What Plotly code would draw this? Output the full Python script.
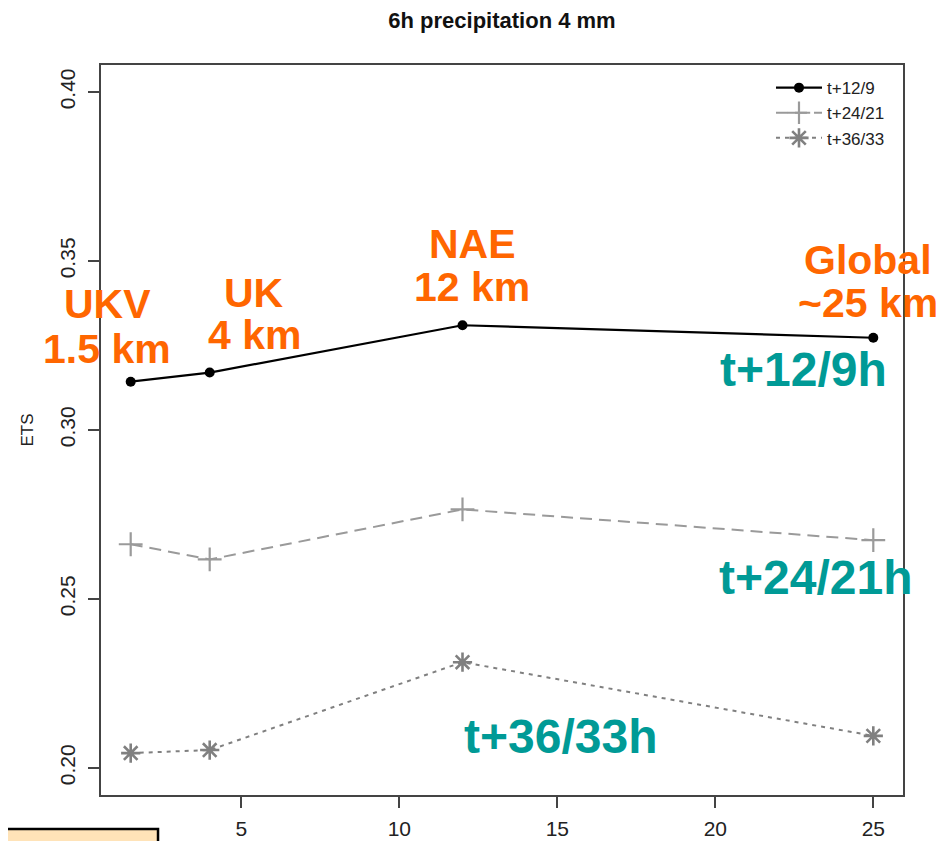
import plotly.graph_objects as go

# ---- data ----
resolution_km = [1.5, 4, 12, 25]
ets_t12 = [0.3143, 0.3170, 0.3310, 0.3273]
ets_t24 = [0.2662, 0.2617, 0.2765, 0.2674]
ets_t36 = [0.2044, 0.2053, 0.2313, 0.2095]
series_names = ["t+12/9", "t+24/21", "t+36/33"]

x_ticks = [5, 10, 15, 20, 25]
y_ticks = [0.20, 0.25, 0.30, 0.35, 0.40]
y_ticklabels = ["0.20", "0.25", "0.30", "0.35", "0.40"]

model_labels = [("UKV", "1.5 km"), ("UK", "4 km"), ("NAE", "12 km"), ("Global", "~25 km")]
model_label_x = [0.76, 5.41, 12.31, 24.84]
model_label_y1 = [0.3374, 0.3406, 0.3551, 0.3504]
model_label_y2 = [0.3241, 0.3282, 0.3424, 0.3377]

lead_labels = ["t+12/9h", "t+24/21h", "t+36/33h"]
lead_label_x = [22.78, 23.16, 15.09]
lead_label_y = [0.3179, 0.2564, 0.2092]

NARROW = "Liberation Sans Narrow, Arial Narrow, Liberation Sans, Arial, sans-serif"
SANS = "Liberation Sans, Arial, Helvetica, sans-serif"
ORANGE = "#FF6600"
TEAL = "#009A96"

fig = go.Figure()
fig.add_trace(go.Scatter(
    x=resolution_km, y=ets_t12, name=series_names[0], mode="lines+markers",
    line=dict(color="black", width=2.2),
    marker=dict(symbol="circle", size=10, color="black"),
))
fig.add_trace(go.Scatter(
    x=resolution_km, y=ets_t24, name=series_names[1], mode="lines+markers",
    line=dict(color="#9a9a9a", width=2, dash="12px,7px"),
    marker=dict(symbol="cross-thin-open", size=17, color="#9a9a9a",
                line=dict(width=2.2, color="#9a9a9a")),
))
fig.add_trace(go.Scatter(
    x=resolution_km, y=ets_t36, name=series_names[2], mode="lines+markers",
    line=dict(color="#808080", width=2, dash="4px,5px"),
    marker=dict(symbol="asterisk-open", size=16, color="#808080",
                line=dict(width=2.6, color="#808080")),
))

annotations = []
for (l1, l2), x, y1, y2 in zip(model_labels, model_label_x, model_label_y1, model_label_y2):
    for txt, yy in ((l1, y1), (l2, y2)):
        annotations.append(dict(
            x=x, y=yy, xref="x", yref="y", text=txt, showarrow=False,
            xanchor="center", yanchor="middle",
            font=dict(family=SANS, size=41, color=ORANGE, weight="bold"),
        ))
for txt, x, y in zip(lead_labels, lead_label_x, lead_label_y):
    annotations.append(dict(
        x=x, y=y, xref="x", yref="y", text=txt, showarrow=False,
        xanchor="center", yanchor="middle",
        font=dict(family=SANS, size=48, color=TEAL, weight="bold"),
    ))

fig.update_layout(
    width=942, height=833,
    margin=dict(l=93, r=47, t=57, b=46),
    paper_bgcolor="white", plot_bgcolor="white",
    title=dict(text="6h precipitation 4 mm", x=0.5244, xanchor="center",
               y=1 - 12 / 833, yanchor="middle",
               font=dict(family=SANS, size=22, color="#111111", weight="bold")),
    showlegend=True,
    legend=dict(x=0.8354, xanchor="left", y=0.993, yanchor="top",
                bgcolor="rgba(0,0,0,0)", borderwidth=0,
                font=dict(family=NARROW, size=17, color="#222222"),
                itemwidth=46, tracegroupgap=0),
    annotations=annotations,
    shapes=[dict(type="rect", xref="paper", yref="paper",
                 x0=-0.14, x1=0.0711, y0=-0.08, y1=-0.0466,
                 line=dict(color="black", width=2.5), fillcolor="#FFE3B8")],
)
fig.update_xaxes(
    range=[0.56, 25.94], tickvals=x_ticks, showgrid=False, zeroline=False,
    automargin=False,
    showline=True, mirror=True, linecolor="#444444", linewidth=2,
    ticks="outside", ticklen=11, tickwidth=1.5, tickcolor="#444444",
    ticklabelstandoff=3,
    tickfont=dict(family=NARROW, size=21, color="#222222"),
)
fig.update_yaxes(
    range=[0.192, 0.408], tickvals=y_ticks, ticktext=y_ticklabels,
    showgrid=False, zeroline=False, tickangle=-90, automargin=False,
    showline=True, mirror=True, linecolor="#444444", linewidth=2,
    ticks="outside", ticklen=11, tickwidth=1.5, tickcolor="#444444",
    ticklabelstandoff=5,
    tickfont=dict(family=NARROW, size=21, color="#222222"),
    title=dict(text="ETS", standoff=18,
               font=dict(family=NARROW, size=17, color="#222222")),
)

fig.write_html("out.html")
